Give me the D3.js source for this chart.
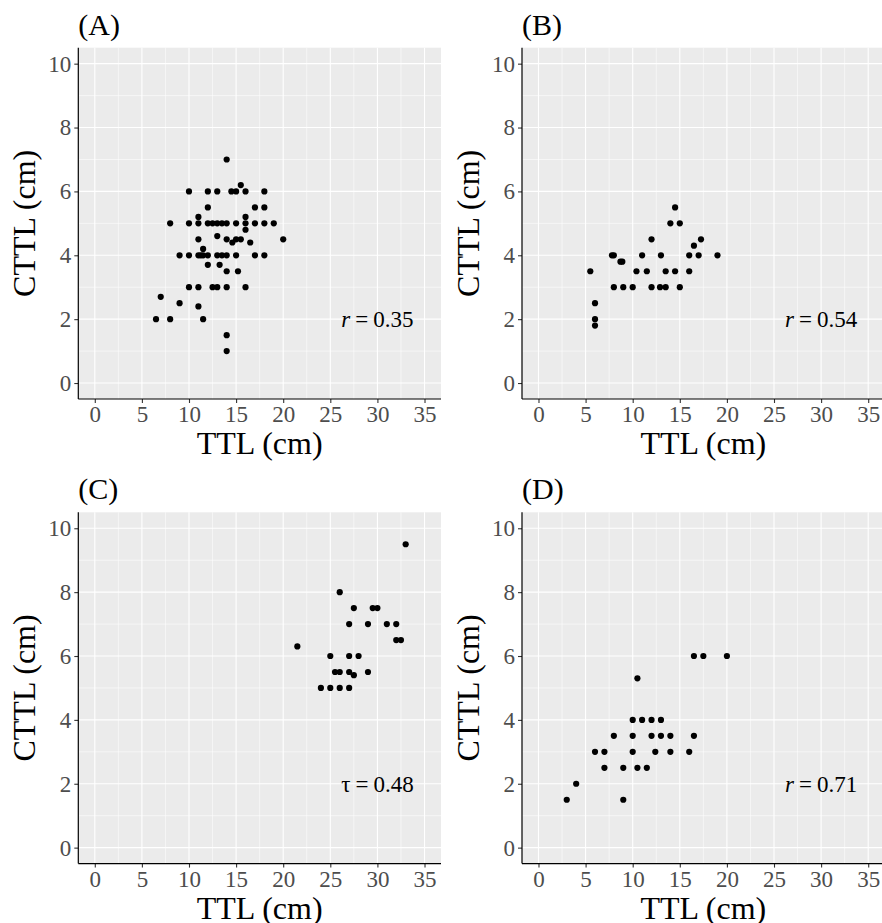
<!DOCTYPE html>
<html>
<head>
<meta charset="utf-8">
<script src="https://cdn.jsdelivr.net/npm/d3@7"></script>
<style>
  body { margin: 0; background: #fff; }
  svg { display: block; font-family: "Liberation Serif", "Times New Roman", serif; }
</style>
</head>
<body>
<div class="canvas"></div>
<script>
// panel A
const ttlA = [14, 15.5, 10, 12, 13, 14.5, 15, 16, 18, 12, 17, 18, 11, 16,
  8, 10, 11, 12, 12.5, 13, 13.5, 14, 15, 16, 17, 18, 19, 16, 13,
  11, 14, 15, 15.5, 20, 14.6, 16.5, 11.5,
  9, 10, 11, 11.25, 11.5, 12, 13, 13.5, 14, 15, 17, 18, 12, 13.25, 14, 15.2,
  10, 11, 12.5, 13, 14, 16, 7, 9, 11, 6.5, 8, 11.5, 14, 14];
const cttlA = [7, 6.2, 6, 6, 6, 6, 6, 6, 6, 5.5, 5.5, 5.5, 5.2, 5.2,
  5, 5, 5, 5, 5, 5, 5, 5, 5, 5, 5, 5, 5, 4.8, 4.6,
  4.5, 4.5, 4.5, 4.5, 4.5, 4.4, 4.4, 4.2,
  4, 4, 4, 4, 4, 4, 4, 4, 4, 4, 4, 4, 3.7, 3.7, 3.5, 3.5,
  3, 3, 3, 3, 3, 3, 2.7, 2.5, 2.4, 2, 2, 2, 1.5, 1];
// panel B
const ttlB = [14.5, 14, 15, 12, 17.25, 16.5, 7.8, 8, 11, 13, 16, 17, 19, 8.7, 8.9,
  5.5, 10.4, 11.5, 13.5, 14.5, 16, 8, 9, 10, 12, 12.9, 13.5, 15, 6, 6, 6];
const cttlB = [5.5, 5, 5, 4.5, 4.5, 4.3, 4, 4, 4, 4, 4, 4, 4, 3.8, 3.8,
  3.5, 3.5, 3.5, 3.5, 3.5, 3.5, 3, 3, 3, 3, 3, 3, 3, 2.5, 2, 1.8];
// panel C
const ttlC = [33, 26, 27.5, 29.5, 30, 27, 29, 31, 32, 21.5, 32, 32.5, 25, 27, 28,
  25.5, 26, 27, 29, 27.5, 24, 25, 26, 27];
const cttlC = [9.5, 8, 7.5, 7.5, 7.5, 7, 7, 7, 7, 6.3, 6.5, 6.5, 6, 6, 6,
  5.5, 5.5, 5.5, 5.5, 5.4, 5, 5, 5, 5];
// panel D
const ttlD = [10.5, 16.5, 17.5, 20, 10, 11, 12, 13, 8, 10, 12, 13, 14, 16.5,
  6, 7, 10, 12.4, 14, 16, 7, 9, 10.5, 11.5, 4, 3, 9];
const cttlD = [5.3, 6, 6, 6, 4, 4, 4, 4, 3.5, 3.5, 3.5, 3.5, 3.5, 3.5,
  3, 3, 3, 3, 3, 3, 2.5, 2.5, 2.5, 2.5, 2, 1.5, 1.5];

const panelLabels = ["(A)", "(B)", "(C)", "(D)"];
const statSymbols = ["r", "r", "τ", "r"];
const statValues = ["0.35", "0.54", "0.48", "0.71"];
const xTicks = [0, 5, 10, 15, 20, 25, 30, 35];
const yTicks = [0, 2, 4, 6, 8, 10];

const panels = [
  { x: ttlA, y: cttlA, left: 78.3, top: 47.7 },
  { x: ttlB, y: cttlB, left: 522, top: 47.7 },
  { x: ttlC, y: cttlC, left: 78.3, top: 512.3 },
  { x: ttlD, y: cttlD, left: 522, top: 512.3 },
];

const graphWidth = 362.7;
const graphHeight = 351.3;

const svg = d3.select(".canvas").append("svg")
  .attr("width", 882)
  .attr("height", 923);

panels.forEach((p, i) => {
  const x = d3.scaleLinear().domain([-1.75, 36.75]).range([0, graphWidth]);
  const y = d3.scaleLinear().domain([-0.5, 10.5]).range([graphHeight, 0]);

  const g = svg.append("g").attr("transform", `translate(${p.left},${p.top})`);

  g.append("rect")
    .attr("width", graphWidth)
    .attr("height", graphHeight)
    .attr("fill", "#ebebeb");

  // minor grid
  const minorX = d3.range(2.5, 36, 5);
  const minorY = d3.range(1, 10, 2);
  g.selectAll(".mx").data(minorX).enter().append("line")
    .attr("x1", d => x(d)).attr("x2", d => x(d))
    .attr("y1", 0).attr("y2", graphHeight)
    .attr("stroke", "#fff").attr("stroke-width", 0.55);
  g.selectAll(".my").data(minorY).enter().append("line")
    .attr("x1", 0).attr("x2", graphWidth)
    .attr("y1", d => y(d)).attr("y2", d => y(d))
    .attr("stroke", "#fff").attr("stroke-width", 0.55);
  // major grid
  g.selectAll(".gx").data(xTicks).enter().append("line")
    .attr("x1", d => x(d)).attr("x2", d => x(d))
    .attr("y1", 0).attr("y2", graphHeight)
    .attr("stroke", "#fff").attr("stroke-width", 1.1);
  g.selectAll(".gy").data(yTicks).enter().append("line")
    .attr("x1", 0).attr("x2", graphWidth)
    .attr("y1", d => y(d)).attr("y2", d => y(d))
    .attr("stroke", "#fff").attr("stroke-width", 1.1);

  // points
  g.selectAll("circle").data(p.x.map((v, k) => [v, p.y[k]])).enter()
    .append("circle")
    .attr("cx", d => x(d[0]))
    .attr("cy", d => y(d[1]))
    .attr("r", 3.1)
    .attr("fill", "#000");

  // axes
  const xAxis = d3.axisBottom(x).tickValues(xTicks).tickSize(4).tickPadding(3);
  const yAxis = d3.axisLeft(y).tickValues(yTicks).tickSize(4).tickPadding(3);
  const xg = g.append("g").attr("transform", `translate(0,${graphHeight})`).call(xAxis);
  const yg = g.append("g").call(yAxis);
  [xg, yg].forEach(a => {
    a.select(".domain").remove();
    a.selectAll(".tick line").attr("stroke", "#333").attr("stroke-width", 1.1);
    a.selectAll("text").attr("fill", "#4d4d4d").style("font-size", "23px")
      .style("font-family", "Liberation Serif, serif");
  });
  g.append("line").attr("x1", 0).attr("x2", 0).attr("y1", 0).attr("y2", graphHeight)
    .attr("stroke", "#000").attr("stroke-width", 1.2);
  g.append("line").attr("x1", 0).attr("x2", graphWidth)
    .attr("y1", graphHeight).attr("y2", graphHeight)
    .attr("stroke", "#000").attr("stroke-width", 1.2);

  // titles
  g.append("text")
    .attr("x", graphWidth / 2).attr("y", graphHeight + 55)
    .attr("text-anchor", "middle")
    .style("font-size", "32px")
    .text("TTL (cm)");
  g.append("text")
    .attr("transform", `translate(-43,${graphHeight / 2}) rotate(-90)`)
    .attr("text-anchor", "middle")
    .style("font-size", "32px")
    .text("CTTL (cm)");
  g.append("text")
    .attr("x", 0).attr("y", -13)
    .style("font-size", "30px")
    .text(panelLabels[i]);

  // correlation annotation
  const ann = g.append("text")
    .attr("x", x(30)).attr("y", y(2) + 8)
    .attr("text-anchor", "middle")
    .style("font-size", "23px");
  ann.append("tspan").style("font-style", statSymbols[i] === "r" ? "italic" : "normal")
    .text(statSymbols[i]);
  ann.append("tspan").attr("dx", 5).text("=");
  ann.append("tspan").attr("dx", 5).text(statValues[i]);
});
</script>
</body>
</html>
